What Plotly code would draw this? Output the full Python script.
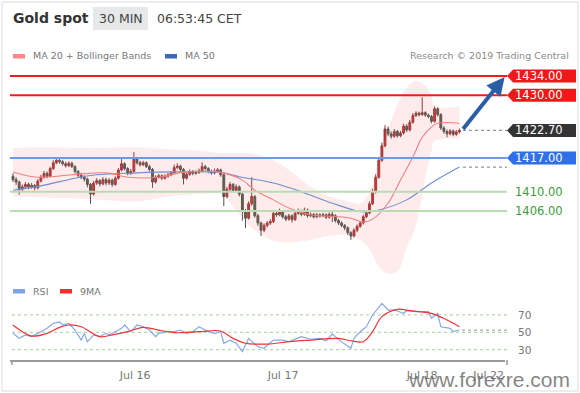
import plotly.graph_objects as go

W, H = 580, 393

# ---------------- data ----------------
bars = list(range(145))
opens = [1413.2,1412.5,1412.0,1410.5,1411.0,1411.5,1411.0,1411.3,1410.8,1412.2,1413.0,1413.8,1413.2,1414.8,1416.0,1416.5,1416.2,1415.8,1415.4,1415.9,
         1415.2,1414.2,1413.4,1413.0,1412.6,1411.5,1409.5,1411.8,1412.3,1411.6,1412.5,1411.8,1412.4,1411.5,1412.8,1414.5,1415.8,1414.8,1413.8,1414.2,
         1416.8,1416.0,1415.6,1416.0,1415.2,1414.6,1412.0,1413.0,1413.3,1412.8,1413.2,1413.5,1413.9,1415.0,1415.3,1414.6,1412.8,1413.6,1414.2,1413.8,
         1414.0,1414.3,1415.2,1414.8,1414.2,1413.9,1414.3,1414.5,1413.5,1409.0,1410.5,1411.5,1410.2,1411.0,1409.5,1406.0,1404.5,1407.5,1409.0,1405.0,
         1403.5,1402.0,1403.0,1403.5,1403.8,1405.5,1405.2,1405.8,1404.8,1404.3,1405.0,1404.2,1405.5,1406.0,1405.3,1406.2,1405.0,1405.3,1404.8,1405.2,
         1405.0,1405.2,1404.7,1405.3,1405.0,1404.0,1403.5,1403.0,1402.5,1401.5,1400.8,1402.0,1402.8,1403.5,1404.8,1405.6,1407.5,1410.0,1413.0,1416.5,
         1419.5,1423.0,1422.0,1421.5,1422.5,1421.6,1422.2,1423.6,1422.8,1424.4,1425.8,1426.3,1426.0,1426.4,1425.9,1425.6,1424.6,1427.2,1426.0,1423.2,
         1422.5,1422.0,1422.6,1421.9,1422.4]
highs = [1413.8,1413.0,1412.3,1411.5,1412.0,1411.9,1411.8,1411.6,1412.6,1413.5,1414.3,1414.2,1415.2,1416.5,1417.0,1416.9,1416.6,1416.2,1416.3,1416.2,
         1415.5,1414.5,1413.9,1413.4,1412.9,1411.8,1412.2,1412.8,1412.6,1413.0,1412.9,1412.8,1412.7,1413.2,1414.9,1417.0,1416.1,1415.1,1414.7,1418.2,
         1417.2,1416.4,1416.4,1416.3,1415.6,1414.9,1413.4,1413.7,1413.6,1413.6,1413.9,1414.3,1415.6,1415.9,1415.6,1414.9,1414.0,1414.6,1414.5,1414.4,
         1414.8,1416.1,1415.6,1415.1,1414.6,1414.8,1414.9,1414.8,1413.8,1411.0,1412.0,1411.8,1411.5,1411.3,1409.8,1406.4,1408.0,1413.0,1409.3,1405.4,
         1403.8,1403.4,1403.9,1404.3,1406.0,1405.9,1406.5,1406.1,1405.2,1405.4,1405.3,1405.9,1406.5,1406.3,1406.7,1406.5,1405.7,1405.6,1405.6,1405.5,
         1405.6,1405.5,1405.7,1406.0,1405.3,1404.4,1403.8,1403.3,1402.8,1401.8,1402.4,1403.2,1403.9,1405.2,1406.1,1408.0,1410.6,1413.6,1417.2,1420.2,
         1423.8,1423.5,1422.5,1423.0,1422.8,1422.6,1424.1,1424.0,1424.9,1426.3,1426.7,1426.6,1429.6,1426.7,1426.2,1425.9,1427.7,1427.5,1426.3,1423.6,
         1422.9,1423.0,1422.9,1422.8,1423.1]
lows = [1412.0,1411.4,1409.4,1410.1,1410.6,1410.5,1410.6,1410.3,1410.5,1411.9,1412.7,1412.8,1413.0,1414.5,1415.7,1415.8,1415.4,1415.0,1415.1,1414.9,
        1413.8,1413.0,1412.6,1412.1,1410.9,1407.5,1409.2,1411.4,1411.1,1411.3,1411.3,1411.4,1411.0,1411.2,1412.5,1414.2,1414.4,1413.4,1413.5,1414.0,
        1415.6,1415.2,1415.3,1414.9,1414.2,1410.8,1411.7,1412.7,1412.4,1412.5,1412.9,1413.2,1413.7,1414.7,1414.2,1411.5,1412.5,1413.3,1413.4,1413.5,
        1413.7,1414.0,1414.4,1413.8,1413.5,1413.6,1413.9,1413.1,1407.0,1408.6,1410.1,1409.8,1409.9,1409.0,1404.0,1402.5,1404.2,1407.1,1404.6,1402.9,
        1400.8,1401.6,1402.6,1403.1,1403.5,1404.8,1404.9,1404.4,1403.9,1404.0,1403.6,1403.9,1405.2,1404.9,1405.0,1404.6,1404.7,1404.4,1404.5,1404.6,
        1404.7,1404.3,1404.4,1403.7,1403.6,1403.1,1402.6,1402.0,1401.0,1400.0,1400.5,1401.6,1402.5,1403.2,1404.5,1405.3,1407.2,1409.6,1412.7,1416.2,
        1419.2,1421.5,1421.0,1421.2,1421.2,1421.3,1421.9,1422.4,1422.5,1424.1,1425.5,1425.6,1425.7,1425.5,1425.2,1424.2,1424.3,1425.6,1422.8,1422.0,
        1421.3,1421.7,1421.5,1421.6,1422.1]
closes = [1412.5,1412.0,1410.5,1411.0,1411.5,1411.0,1411.3,1410.8,1412.2,1413.0,1413.8,1413.2,1414.8,1416.0,1416.5,1416.2,1415.8,1415.4,1415.9,1415.2,
          1414.2,1413.4,1413.0,1412.6,1411.5,1409.5,1411.8,1412.3,1411.6,1412.5,1411.8,1412.4,1411.5,1412.8,1414.5,1415.8,1414.8,1413.8,1414.2,1416.8,
          1416.0,1415.6,1416.0,1415.2,1414.6,1412.0,1413.0,1413.3,1412.8,1413.2,1413.5,1413.9,1415.0,1415.3,1414.6,1412.8,1413.6,1414.2,1413.8,1414.0,
          1414.3,1415.2,1414.8,1414.2,1413.9,1414.3,1414.5,1413.5,1409.0,1410.5,1411.5,1410.2,1411.0,1409.5,1406.0,1404.5,1407.5,1409.0,1405.0,1403.5,
          1402.0,1403.0,1403.5,1403.8,1405.5,1405.2,1405.8,1404.8,1404.3,1405.0,1404.2,1405.5,1406.0,1405.3,1406.2,1405.0,1405.3,1404.8,1405.2,1405.0,
          1405.2,1404.7,1405.3,1405.0,1404.0,1403.5,1403.0,1402.5,1401.5,1400.8,1402.0,1402.8,1403.5,1404.8,1405.6,1407.5,1410.0,1413.0,1416.5,1419.5,
          1423.0,1422.0,1421.5,1422.5,1421.6,1422.2,1423.6,1422.8,1424.4,1425.8,1426.3,1426.0,1426.4,1425.9,1425.6,1424.6,1427.2,1426.0,1423.2,1422.5,
          1422.0,1422.6,1421.9,1422.4,1422.7]

ma20_bars = [0, 8, 19, 30, 37, 47, 55, 67, 74, 78, 84, 89, 96, 105, 109, 113, 116, 121, 125, 129, 132, 135, 137, 144]
ma20_vals = [1414.1, 1413.0, 1413.5, 1413.9, 1413.0, 1413.0, 1414.0, 1414.0, 1412.4, 1410.3, 1408.3, 1406.6, 1405.2,
             1404.8, 1404.5, 1403.7, 1404.3, 1407.6, 1412.4, 1417.2, 1421.3, 1423.4, 1424.2, 1424.2]

bb_bars = [0, 10, 25, 40, 50, 60, 67, 72, 78, 84, 90, 96, 102, 108, 112, 115, 118, 121, 124, 127, 130, 133, 135, 136, 144]
bb_upper = [1419.0, 1419.2, 1419.0, 1419.2, 1418.8, 1418.5, 1418.0, 1418.0, 1417.8, 1416.5, 1414.0, 1411.0, 1409.0,
            1408.0, 1407.5, 1410.0, 1417.0, 1423.0, 1428.0, 1431.5, 1433.0, 1432.0, 1430.0, 1427.8, 1427.6]
bb_lower = [1409.0, 1408.8, 1408.5, 1408.0, 1409.0, 1409.5, 1409.6, 1406.0, 1402.0, 1399.8, 1399.5, 1400.0, 1400.8,
            1401.0, 1400.0, 1398.0, 1394.5, 1393.0, 1393.5, 1398.5, 1403.0, 1413.0, 1418.5, 1420.5, 1421.0]

ma50_bars = [0, 9, 20, 27, 40, 52, 67, 73, 84, 93, 103, 113, 118, 127, 135, 144]
ma50_vals = [1410.3, 1411.2, 1412.8, 1413.5, 1413.9, 1414.1, 1414.0, 1413.1, 1411.8, 1410.0, 1407.6, 1405.8, 1406.2,
             1408.3, 1411.8, 1415.1]

rsi_bars = [0, 2, 4, 6, 9, 11, 13, 15, 16, 18, 20, 22, 23, 24, 26, 28, 30, 31, 33, 35, 36, 38, 40, 42, 44, 46, 47, 50,
            52, 54, 56, 58, 60, 63, 65, 67, 68, 70, 72, 74, 76, 79, 81, 84, 87, 89, 93, 96, 99, 101, 103, 106, 109, 110,
            112, 114, 116, 118, 119, 121, 123, 126, 127, 130, 134, 135, 137, 138, 141, 142, 144]
rsi_vals = [48.8, 43, 47, 45, 50.7, 54.6, 60.3, 62, 58.4, 60.3, 52.6, 41, 48.8, 39, 47, 45, 48.8, 47, 50.7, 54.6, 58.4,
            50.7, 58.4, 56.4, 52.6, 45, 48.8, 50.7, 50.7, 52.6, 48.8, 50.7, 56.4, 50.7, 48.8, 50.7, 37.4, 41, 37.4, 27.7,
            43, 33.4, 31.6, 41, 41, 39, 45, 42, 43, 40.3, 48, 39, 31.6, 43, 50.7, 56.4, 69.9, 79.4, 83.3, 75.6, 75.6, 71.8,
            74.8, 73.7, 73.7, 66.1, 71.8, 56.4, 54.6, 50.7, 52.6]

ma9_bars = [0, 3, 6, 11, 15, 18, 22, 28, 32, 37, 42, 47, 52, 60, 67, 71, 75, 82, 89, 96, 105, 109, 113, 116, 119, 124,
            128, 135, 140, 144]
ma9_vals = [58.4, 50.7, 45.7, 48.8, 55.7, 58.4, 56.4, 45, 47, 50.7, 55.7, 52.6, 49.6, 50.7, 51.5, 43, 37.4, 36.5, 39.2,
            41, 43, 40.3, 39.2, 50.7, 68, 76.4, 74.8, 71.8, 64.1, 56.4]

resist_levels = [1434.00, 1430.00]
support_levels = [1417.00]
minor_levels = [1410.00, 1406.00]
rsi_levels = [70, 50, 30]
target_price = 1433.8

tick_bars = [39.4, 87.1, 132, 153.4]
tick_text = ["Jul 16", "Jul 17", "Jul 18", "Jul 22"]

# ---------------- layout helpers ----------------
def px(x):
    return x / W

def py(y):
    return 1 - y / H

FONT = "DejaVu Sans"
X_L, X_R = 10, 505          # plot area in pixels
LBL_L = 507                 # start of right-side tags
PRICE_TOP, PRICE_BOT = 62, 280
RSI_TOP, RSI_BOT = 298, 360

fig = go.Figure()

# Bollinger band fill
fig.add_trace(go.Scatter(x=bb_bars, y=bb_lower, mode="lines", line=dict(width=0, shape="spline"),
                         hoverinfo="skip", xaxis="x", yaxis="y"))
fig.add_trace(go.Scatter(x=bb_bars, y=bb_upper, mode="lines", line=dict(width=0, shape="spline"),
                         fill="tonexty", fillcolor="rgba(248,120,120,0.15)", hoverinfo="skip", xaxis="x", yaxis="y"))
# MA 50 and MA 20
fig.add_trace(go.Scatter(x=ma50_bars, y=ma50_vals, mode="lines", line=dict(color="#6f8fcf", width=1.1, shape="spline"),
                         xaxis="x", yaxis="y"))
fig.add_trace(go.Scatter(x=ma20_bars, y=ma20_vals, mode="lines", line=dict(color="#f08080", width=1.1, shape="spline"),
                         xaxis="x", yaxis="y"))
# Candles
fig.add_trace(go.Candlestick(x=bars, open=opens, high=highs, low=lows, close=closes,
                             increasing=dict(fillcolor="#d92525", line=dict(color="#8f3535", width=1)),
                             decreasing=dict(fillcolor="#2f6e2f", line=dict(color="#4d4d4d", width=1)),
                             whiskerwidth=0, xaxis="x", yaxis="y"))
# RSI pane
fig.add_trace(go.Scatter(x=rsi_bars, y=rsi_vals, mode="lines", line=dict(color="#86a8e6", width=1.2),
                         xaxis="x", yaxis="y2"))
fig.add_trace(go.Scatter(x=ma9_bars, y=ma9_vals, mode="lines", line=dict(color="#f03434", width=1.2, shape="spline"),
                         xaxis="x", yaxis="y2"))

x0_bar = (X_L - 13) / 3.1
x1_bar = (X_R - 13) / 3.1
p_top = 1434 + (76 - PRICE_TOP) / 4.82
p_bot = 1434 - (PRICE_BOT - 76) / 4.82
r_top = 50 + (332.3 - RSI_TOP) / 0.87
r_bot = 50 - (RSI_BOT - 332.3) / 0.87

shapes = []
annots = []

# outer frame
shapes.append(dict(type="rect", xref="paper", yref="paper", x0=px(2), x1=px(578), y0=py(391), y1=py(2),
                   line=dict(color="#dcdcdc", width=1), layer="below"))

# horizontal levels
for lv in resist_levels:
    shapes.append(dict(type="line", xref="paper", yref="y", x0=px(X_L), x1=px(LBL_L), y0=lv, y1=lv,
                       line=dict(color="#ee1d1d", width=2)))
for lv in support_levels:
    shapes.append(dict(type="line", xref="paper", yref="y", x0=px(X_L), x1=px(LBL_L), y0=lv, y1=lv,
                       line=dict(color="#6d9be8", width=2)))
for lv in minor_levels:
    shapes.append(dict(type="line", xref="paper", yref="y", x0=px(X_L), x1=px(LBL_L), y0=lv, y1=lv,
                       line=dict(color="#b9ddb2", width=2)))

# dotted current-value lines
for lv in [closes[-1], ma50_vals[-1]]:
    shapes.append(dict(type="line", xref="paper", yref="y", x0=px(463), x1=px(LBL_L), y0=lv, y1=lv,
                       line=dict(color="#8a9a9a", width=1.3, dash="dot")))
shapes.append(dict(type="line", xref="paper", yref="y2", x0=px(462), x1=px(LBL_L), y0=rsi_vals[-1], y1=rsi_vals[-1],
                   line=dict(color="#aaaaaa", width=1.2, dash="dot")))
for lv in rsi_levels:
    shapes.append(dict(type="line", xref="paper", yref="y2", x0=px(12), x1=px(LBL_L), y0=lv, y1=lv,
                       line=dict(color="#b5d8ae", width=1.2, dash="dot"), layer="below"))

# value tags
def tag(value, color, text_color="white"):
    hh = 6.5 / 4.82
    xa, xb, xc = px(507), px(513), px(576)
    path = (f"M {xa} {value} L {xb} {value + hh} L {xc} {value + hh} "
            f"L {xc} {value - hh} L {xb} {value - hh} Z")
    shapes.append(dict(type="path", xref="paper", yref="y", path=path, fillcolor=color,
                       line=dict(color=color, width=0)))
    annots.append(dict(xref="paper", yref="y", x=px(539), y=value, text=f"{value:.2f}", showarrow=False,
                       xanchor="center", yanchor="middle", font=dict(family=FONT, size=11.5, color=text_color)))

for lv in resist_levels:
    tag(lv, "#f01818")
tag(closes[-1], "#333333")
for lv in support_levels:
    tag(lv, "#2f6fe8")
for lv in minor_levels:
    annots.append(dict(xref="paper", yref="y", x=px(539), y=lv, text=f"{lv:.2f}", showarrow=False,
                       xanchor="center", yanchor="middle", font=dict(family=FONT, size=11.5, color="#3c9a3c")))

for lv in rsi_levels:
    annots.append(dict(xref="paper", yref="y2", x=px(524), y=lv, text=str(lv), showarrow=False,
                       xanchor="center", yanchor="middle", font=dict(family=FONT, size=10.5, color="#777777")))

# target arrow
annots.append(dict(xref="x", yref="y", x=158.6, y=target_price, axref="x", ayref="y",
                   ax=bars[-1] + 0.8, ay=closes[-1], showarrow=True, arrowhead=2, arrowsize=0.9,
                   arrowwidth=4, arrowcolor="#2a5fa8", text=""))

# axis end ticks
for xx in [12, 507]:
    shapes.append(dict(type="line", xref="paper", yref="paper", x0=px(xx), x1=px(xx), y0=py(360), y1=py(365),
                       line=dict(color="#999999", width=1.5)))

# header
annots.append(dict(xref="paper", yref="paper", x=px(11), y=py(18), text="<b>Gold spot</b>", showarrow=False,
                   xanchor="left", yanchor="middle", font=dict(family=FONT, size=14, color="#333333")))
shapes.append(dict(type="rect", xref="paper", yref="paper", x0=px(93), x1=px(148), y0=py(30), y1=py(7),
                   fillcolor="#e6e8ea", line=dict(width=0)))
annots.append(dict(xref="paper", yref="paper", x=px(120.5), y=py(18.5), text="30 MIN", showarrow=False,
                   xanchor="center", yanchor="middle", font=dict(family=FONT, size=12.5, color="#444444")))
annots.append(dict(xref="paper", yref="paper", x=px(155), y=py(18.5), text="06:53:45 CET", showarrow=False,
                   xanchor="left", yanchor="middle", font=dict(family=FONT, size=12.5, color="#444444")))

# legends
def legend_item(x, y, color, label):
    shapes.append(dict(type="rect", xref="paper", yref="paper", x0=px(x), x1=px(x + 12), y0=py(y + 2.5),
                       y1=py(y - 2), fillcolor=color, line=dict(width=0)))
    annots.append(dict(xref="paper", yref="paper", x=px(x + 18), y=py(y), text=label, showarrow=False,
                       xanchor="left", yanchor="middle", font=dict(family=FONT, size=9.5, color="#777777")))

legend_item(13, 56, "#f88a8a", "MA 20 + Bollinger Bands")
legend_item(165, 56, "#3d68b8", "MA 50")
legend_item(13, 291, "#7fa3e6", "RSI")
legend_item(60, 291, "#f03030", "9MA")
annots.append(dict(xref="paper", yref="paper", x=px(571), y=py(56), text="Research © 2019 Trading Central",
                   showarrow=False, xanchor="right", yanchor="middle",
                   font=dict(family=FONT, size=9.5, color="#8a8a8a")))

# watermark
annots.append(dict(xref="paper", yref="paper", x=px(489), y=py(379), text="www.forexre.com", showarrow=False,
                   xanchor="center", yanchor="middle",
                   font=dict(family="Liberation Sans", size=21, color="rgba(110,110,110,0.85)")))

fig.update_layout(
    width=W, height=H, margin=dict(l=0, r=0, t=0, b=0),
    paper_bgcolor="white", plot_bgcolor="white", showlegend=False,
    boxgap=0.15,
    xaxis=dict(domain=[px(X_L), px(X_R)], range=[x0_bar, x1_bar], anchor="y2",
               showgrid=False, zeroline=False, showline=True, linecolor="#9a9a9a", linewidth=1.5,
               tickmode="array", tickvals=tick_bars, ticktext=tick_text, ticks="",
               tickfont=dict(family=FONT, size=11, color="#777777"), ticklabelstandoff=4,
               rangeslider=dict(visible=False), fixedrange=True),
    yaxis=dict(domain=[py(PRICE_BOT), py(PRICE_TOP)], range=[p_bot, p_top], visible=False, fixedrange=True),
    yaxis2=dict(domain=[py(RSI_BOT), py(RSI_TOP)], range=[r_bot, r_top], visible=False, fixedrange=True),
    shapes=shapes, annotations=annots,
)

fig.write_html("out.html", config={"displayModeBar": False},
               post_script="document.body.style.margin='0';document.body.style.overflow='hidden';")
